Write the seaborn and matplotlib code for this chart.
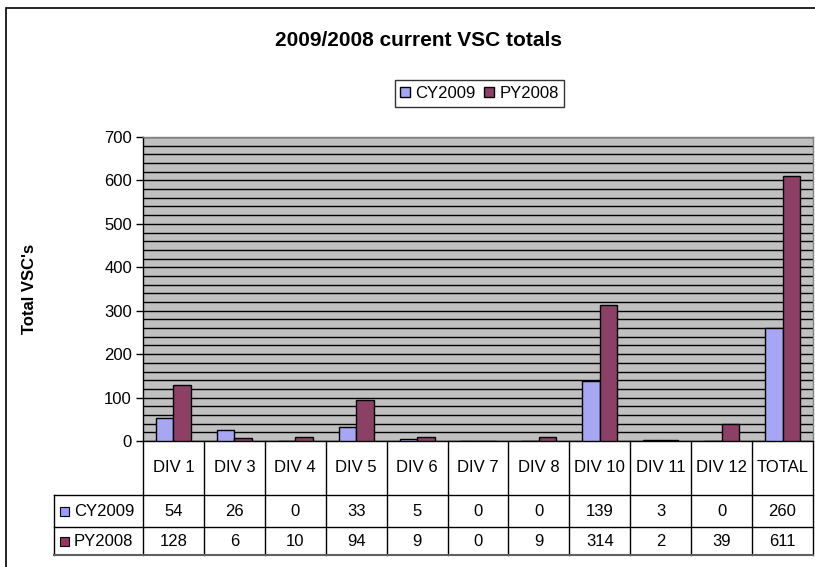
import matplotlib
matplotlib.use("Agg")
import matplotlib.pyplot as plt
import matplotlib.patches as mpatches
import matplotlib.transforms as mtrans
import seaborn as sns
import pandas as pd

categories = ["DIV 1", "DIV 3", "DIV 4", "DIV 5", "DIV 6", "DIV 7", "DIV 8",
              "DIV 10", "DIV 11", "DIV 12", "TOTAL"]
cy2009 = [54, 26, 0, 33, 5, 0, 0, 139, 3, 0, 260]
py2008 = [128, 6, 10, 94, 9, 0, 9, 314, 2, 39, 611]
series_names = ["CY2009", "PY2008"]
colors = ["#9999FF", "#993366"]
title = "2009/2008 current VSC totals"
ylabel = "Total VSC's"

plt.rcParams['font.family'] = ['Liberation Sans', 'DejaVu Sans']

df = pd.DataFrame({
    "cat": categories * 2,
    "series": [series_names[0]] * len(categories) + [series_names[1]] * len(categories),
    "value": cy2009 + py2008,
})

W, H = 815, 567
fig = plt.figure(figsize=(W / 100, H / 100), dpi=100)
ax_left, ax_right, ax_top, ax_bottom = 143, 813, 137, 441
ax = fig.add_axes([ax_left / W, 1 - ax_bottom / H, (ax_right - ax_left) / W, (ax_bottom - ax_top) / H])
ax.set_facecolor("#C0C0C0")

sns.barplot(data=df, x="cat", y="value", hue="series", order=categories,
            hue_order=series_names, palette=colors, width=0.575,
            edgecolor="black", linewidth=1.0, ax=ax, zorder=3, legend=True)

ax.set_xlim(-0.5, len(categories) - 0.5)
ax.set_ylim(0, 700)
ax.set_yticks(range(0, 701, 100))
ax.set_yticks(range(0, 701, 20), minor=True)
ax.grid(True, which="both", axis="y", color="black", linewidth=1.0, zorder=1)
ax.set_axisbelow(True)
ax.tick_params(axis="y", which="major", direction="out", length=5, width=1, labelsize=12, pad=3, colors="black")
ax.tick_params(axis="y", which="minor", length=0)
ax.tick_params(axis="x", length=0, labelbottom=False)
ax.set_xlabel("")
ax.set_ylabel(ylabel, fontsize=12, fontweight="bold")
ax.yaxis.set_label_coords((37 - ax_left) / (ax_right - ax_left), 0.5)
for s in ["top", "right"]:
    ax.spines[s].set_color("#808080")
    ax.spines[s].set_linewidth(1)
ax.spines["left"].set_color("black")
ax.spines["bottom"].set_color("black")
ax.spines["left"].set_linewidth(1)
ax.spines["bottom"].set_linewidth(1)

# legend
handles, labels = ax.get_legend_handles_labels()
leg = ax.legend(handles, labels, loc="center", ncol=2,
                bbox_to_anchor=(479.5 / W, 1 - 93.5 / H), bbox_transform=fig.transFigure,
                frameon=True, fancybox=False, edgecolor="black", fontsize=12,
                handlelength=0.6, handleheight=0.6, handletextpad=0.3,
                columnspacing=0.5, borderpad=0.35, borderaxespad=0)
leg.get_frame().set_linewidth(1)

# title
fig.text(418 / W, 1 - 40 / H, title, ha="center", va="center", fontsize=15, fontweight="bold")

# data table below the axis
ax_h = ax_bottom - ax_top
def yfrac(py):
    return (ax_bottom - py) / ax_h

blend = mtrans.blended_transform_factory(ax.transData, ax.transAxes)
cat_w = (ax_right - ax_left) / len(categories)
x_label_left = -0.5 - (ax_left - 54) / cat_w
n = len(categories)
y_hdr, y_r1, y_r2 = 495, 527, 555
line_kw = dict(transform=blend, clip_on=False, color="black", linewidth=1)

for b in range(n + 1):
    ax.plot([b - 0.5, b - 0.5], [0, yfrac(y_r2)], **line_kw)
ax.plot([x_label_left, x_label_left], [yfrac(y_hdr), yfrac(y_r2)], **line_kw)
ax.plot([x_label_left, n - 0.5], [yfrac(y_hdr), yfrac(y_hdr)], **line_kw)
ax.plot([x_label_left, n - 0.5], [yfrac(y_r1), yfrac(y_r1)], **line_kw)
ax.plot([x_label_left, n - 0.5], [yfrac(y_r2), yfrac(y_r2)], transform=blend, clip_on=False,
        color="#606060", linewidth=1.5)

for i, c in enumerate(categories):
    ax.text(i, yfrac(467), c, transform=blend, ha="center", va="center", fontsize=12)
    ax.text(i, yfrac(511), str(cy2009[i]), transform=blend, ha="center", va="center", fontsize=12)
    ax.text(i, yfrac(541), str(py2008[i]), transform=blend, ha="center", va="center", fontsize=12)

rows = [(511, series_names[0], colors[0]), (541, series_names[1], colors[1])]
for yc, name, col in rows:
    sq = mpatches.Rectangle(((60) / W, 1 - (yc + 4.5) / H), 9 / W, 9 / H,
                            transform=fig.transFigure, facecolor=col, edgecolor="black",
                            linewidth=0.8)
    fig.patches.append(sq)
    fig.text(74 / W, 1 - yc / H, name, ha="left", va="center", fontsize=12)

# outer chart border
border = mpatches.Rectangle((6 / W, -0.1), 1.2, 1 - 8 / H + 0.1, transform=fig.transFigure,
                            fill=False, edgecolor="black", linewidth=1.2)
fig.patches.append(border)

fig.savefig("out.png", dpi=100, facecolor="white")
